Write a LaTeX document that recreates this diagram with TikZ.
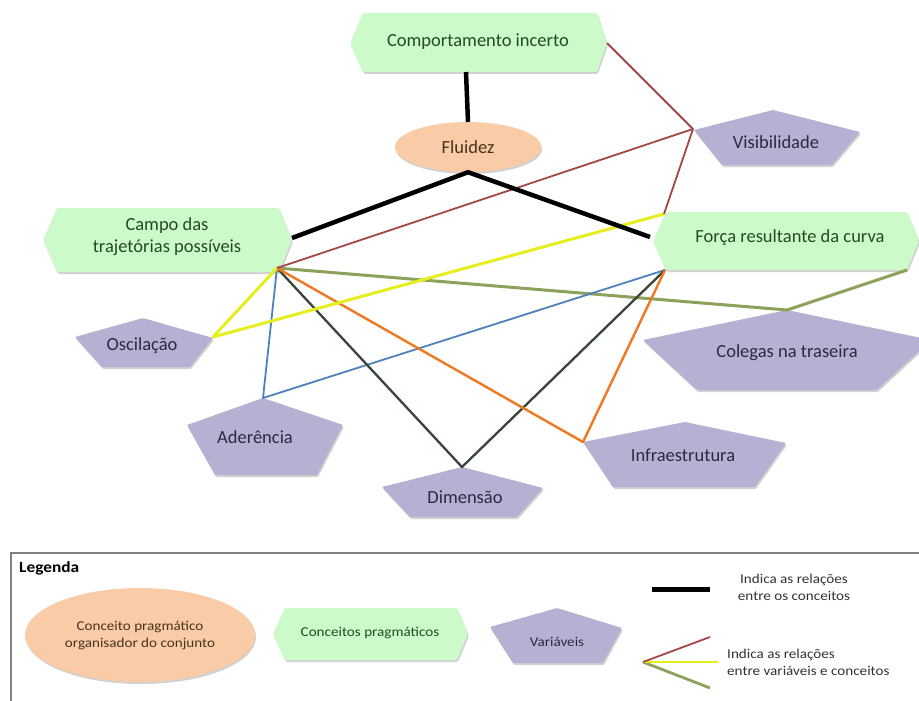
\documentclass[tikz,border=0pt]{standalone}
\usepackage{fontspec}
\setmainfont{Carlito}
\newfontfamily\legfont[FakeStretch=1.12]{Carlito}
\usetikzlibrary{shadows,shapes.geometric}
\definecolor{hexfill}{RGB}{204,250,200}
\definecolor{hextext}{RGB}{35,75,35}
\definecolor{penfill}{RGB}{184,176,211}
\definecolor{pentext}{RGB}{45,40,65}
\definecolor{elfill}{RGB}{249,203,166}
\definecolor{eltext}{RGB}{75,50,28}
\definecolor{relred}{RGB}{165,70,72}
\definecolor{relyel}{RGB}{230,238,30}
\definecolor{relolive}{RGB}{140,162,90}
\definecolor{relblue}{RGB}{79,129,189}
\definecolor{reldark}{RGB}{55,70,55}
\definecolor{relorange}{RGB}{240,120,32}
\definecolor{framegray}{RGB}{128,128,128}
\tikzset{
  shad/.style={drop shadow={shadow xshift=1pt, shadow yshift=-2pt, opacity=0.18, fill=black}},
  hexshape/.style={fill=hexfill, shad, rounded corners=1.5pt},
  penshape/.style={fill=penfill, shad, rounded corners=1pt},
  elshape/.style={ellipse, fill=elfill, shad, inner sep=0, text=eltext},
  hextxt/.style={text=hextext, font=\fontsize{18.5}{22}\selectfont, align=center, inner sep=0},
  pentxt/.style={text=pentext, font=\fontsize{18.5}{22}\selectfont, inner sep=0},
  legtxt/.style={font=\legfont\fontsize{13.5}{17}\selectfont, inner sep=0},
  relconcept/.style={line width=4.5pt, black, line join=round},
  relr/.style={line width=1.8pt, relred, line join=round},
  rely/.style={line width=3pt, relyel, line join=round},
  relo/.style={line width=3pt, relolive, line join=round},
  relb/.style={line width=1.8pt, relblue, line join=round},
  reld/.style={line width=2.3pt, reldark, line join=round},
  relor/.style={line width=2.4pt, relorange, line join=round},
}
\begin{document}
\begin{tikzpicture}[x=1pt,y=-1pt]
\useasboundingbox (0,0) rectangle (919,701);
\clip (0,0) rectangle (919,701);
\fill[white] (0,0) rectangle (919,701);

% ---- concept hexagons ----
\path[hexshape] (350,43) -- (363,13) -- (597,13) -- (607,43) -- (597,72) -- (363,72) -- cycle;
\node[hextxt] (ci) at (478,42) {Comportamento incerto};
\path[hexshape] (43,240) -- (57,208) -- (279,208) -- (292,240) -- (279,272) -- (57,272) -- cycle;
\node[hextxt] (campo) at (167,237) {Campo das\\trajetórias possíveis};
\path[hexshape] (653,241) -- (666,212) -- (907,212) -- (919,241) -- (907,270) -- (666,270) -- cycle;
\node[hextxt] (forca) at (790,238) {Força resultante da curva};

% ---- organiser ellipse ----
\node[elshape, minimum width=146pt, minimum height=50pt, font=\fontsize{18.5}{22}\selectfont] (flu) at (468,147) {Fluidez};

% ---- variable pentagons ----
\path[penshape] (773,110) -- (860,132) -- (832,165) -- (722,165) -- (694,130) -- cycle;
\node[pentxt] (vis) at (776,142) {Visibilidade};
\path[penshape] (143,318) -- (213,338) -- (190,367) -- (102,367) -- (75,337) -- cycle;
\node[pentxt] (osc) at (142,346) {Oscilação};
\path[penshape] (787,310) -- (931,340) -- (877,390) -- (697,390) -- (643,340) -- cycle;
\node[pentxt] (col) at (787,353) {Colegas na traseira};
\path[penshape] (263,398) -- (343,425) -- (317,475) -- (215,475) -- (187,425) -- cycle;
\node[pentxt] (ade) at (255,437) {Aderência};
\path[penshape] (462,467) -- (543,488) -- (517,517) -- (410,517) -- (382,487) -- cycle;
\node[pentxt] (dim) at (465,497) {Dimensão};
\path[penshape] (685,422) -- (786,443) -- (755,487) -- (613,487) -- (583,442) -- cycle;
\node[pentxt] (inf) at (683,455) {Infraestrutura};

% ---- connection points ----
\coordinate (ciB) at (466,72);
\coordinate (ciR) at (607,43);
\coordinate (campoR) at (292,238);
\coordinate (campoBR) at (277,268);
\coordinate (forcaL) at (650,237);
\coordinate (forcaTL) at (664,214);
\coordinate (forcaBL) at (665,270);
\coordinate (forcaBR) at (907,270);
\coordinate (visL) at (693,129);
\coordinate (oscR) at (213,337);
\coordinate (colT) at (787,310);
\coordinate (adeT) at (263,398);
\coordinate (dimT) at (462,467);
\coordinate (infL) at (583,442);

% ---- relations between variables and concepts ----
\draw[relo] (campoBR) -- (colT) -- (forcaBR);
\draw[relb] (campoBR) -- (adeT) -- (forcaBL);
\draw[reld] (campoBR) -- (dimT) -- (forcaBL);
\draw[relor] (campoBR) -- (infL) -- (forcaBL);
\draw[rely] (campoBR) -- (oscR) -- (forcaTL);
\draw[relr] (ciR) -- (visL) -- (forcaTL);
\draw[relr] (campoBR) -- (visL);

% ---- relations between concepts ----
\draw[relconcept] (ciB) -- (flu.north);
\draw[relconcept] (campoR) -- (flu.south) -- (forcaL);

% ---- legend ----
\draw[framegray, line width=1.2pt] (919,553) -- (11,553) -- (11,705);
\node[font=\legfont\bfseries\fontsize{15.5}{18}\selectfont, anchor=west, inner sep=0] (legtitle) at (19,568) {Legenda};
\node[elshape, minimum width=230pt, minimum height=94pt, legtxt, text=eltext, align=center] (legel) at (140,635) {Conceito pragmático\\organisador do conjunto};
\path[hexshape] (273,634) -- (285,608) -- (457,608) -- (468,634) -- (457,660) -- (285,660) -- cycle;
\node[legtxt, text=hextext] (leghex) at (370,633) {Conceitos pragmáticos};
\path[penshape] (557,608) -- (622,628) -- (603,663) -- (513,663) -- (490,627) -- cycle;
\node[legtxt, text=pentext] (legpen) at (557,642) {Variáveis};

\coordinate (lcA) at (652,589);
\coordinate (lcB) at (710,589);
\draw[line width=5pt, black] (lcA) -- (lcB);
\node[legtxt, align=center, text=black!80] (legt1) at (794,587) {Indica as relações\\entre os conceitos};

\coordinate (lv) at (643,662);
\coordinate (lvR) at (710,637);
\coordinate (lvY) at (718,662);
\coordinate (lvO) at (710,688);
\draw[line width=2.8pt, relolive] (lv) -- (lvO);
\draw[line width=2.8pt, relyel] (lv) -- (lvY);
\draw[line width=1.8pt, relred] (lv) -- (lvR);
\node[legtxt, align=left, anchor=west, text=black!80] (legt2) at (727,662) {Indica as relações\\entre variáveis e conceitos};
\end{tikzpicture}
\end{document}
